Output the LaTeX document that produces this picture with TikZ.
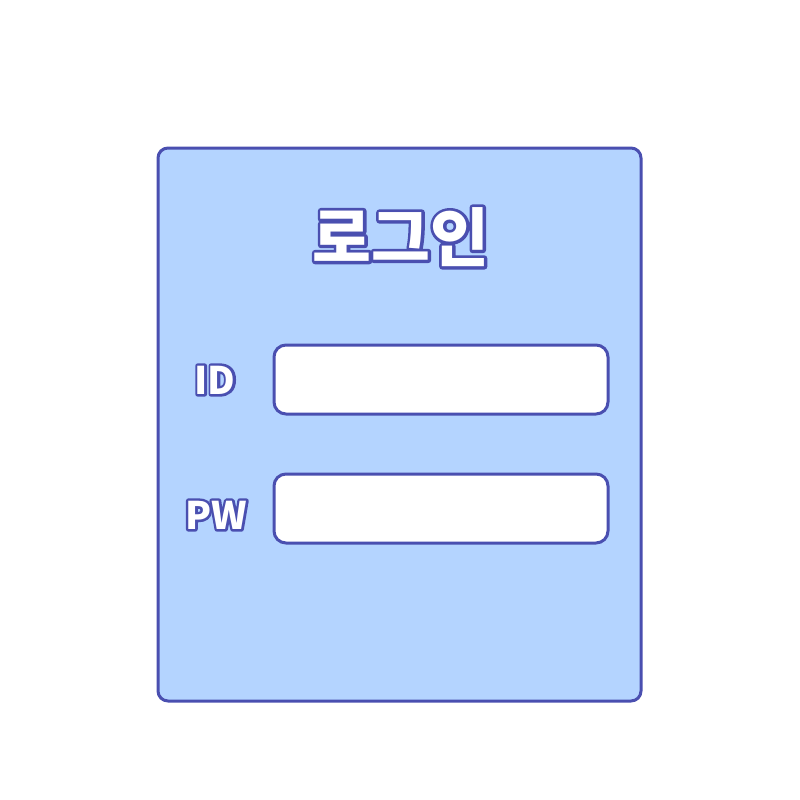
\documentclass[tikz,border=0pt]{standalone}
\usepackage{fontspec}
\newfontfamily\krfont{Noto Sans CJK KR}
\usetikzlibrary{positioning}

\definecolor{panelblue}{HTML}{B4D4FF}
\definecolor{edgeblue}{HTML}{4A4FB0}

% stroked text (fill and stroke, round joins), then back to plain fill
\newcommand{\strokedtext}[2]{\special{pdf:literal direct 2 Tr #1 w 1 j}#2\special{pdf:literal direct 0 Tr 1 w 0 j}}

\tikzset{
  panel/.style={draw=edgeblue, fill=panelblue, line width=3pt, rounded corners=10pt, minimum width=483, minimum height=553},
  inputbox/.style={draw=edgeblue, fill=white, line width=3pt, rounded corners=12pt, minimum width=334, minimum height=69},
  titlefont/.style={font=\krfont\bfseries\fontsize{64}{64}\selectfont, inner sep=0pt},
  labelfont/.style={font=\krfont\bfseries\fontsize{38}{38}\selectfont, inner sep=0pt}
}

\begin{document}
\begin{tikzpicture}[x=1pt, y=-1pt]
  \useasboundingbox (0,0) rectangle (800,800);

  % panel and the two input fields
  \node[panel] (login) at (399.5,424.5) {};
  \node[inputbox] (idbox) at (441,379.5) {};
  \node[inputbox] (pwbox) at (441,508.5) {};

  % outlined texts: thick blue stroke below, white fill on top
  \node[titlefont, text=edgeblue] (titleedge) at (401,237) {\strokedtext{6}{로그인}};
  \node[titlefont, text=white] (title) at (401,237) {로그인};
  \node[labelfont, text=edgeblue] (idedge) at (215,380) {\strokedtext{5}{ID}};
  \node[labelfont, text=white] (idlabel) at (215,380) {ID};
  \node[labelfont, text=edgeblue] (pwedge) at (216,515) {\strokedtext{5}{PW}};
  \node[labelfont, text=white] (pwlabel) at (216,515) {PW};
\end{tikzpicture}
\end{document}
